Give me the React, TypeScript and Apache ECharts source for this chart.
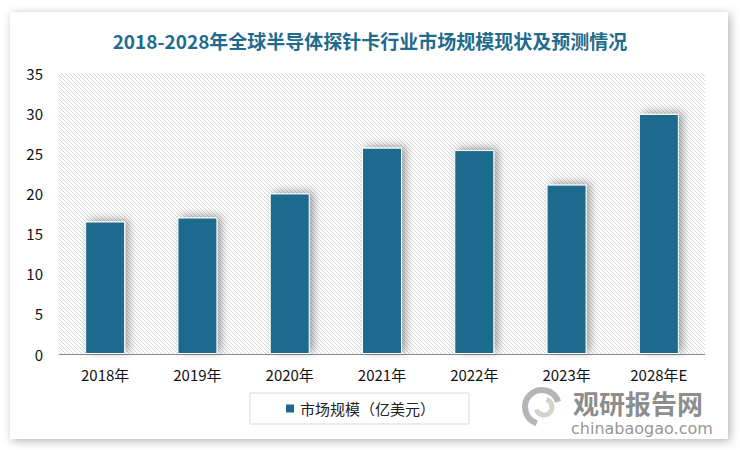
import React, { useEffect, useRef } from "react";
import * as echarts from "echarts";

const categories = ["2018年", "2019年", "2020年", "2021年", "2022年", "2023年", "2028年E"];
const marketSize = [16.5, 17.0, 20.0, 25.7, 25.4, 21.1, 29.9];
const seriesName = "市场规模（亿美元）";
const title = "2018-2028年全球半导体探针卡行业市场规模现状及预测情况";

function makeHatch(): HTMLCanvasElement {
  const c = document.createElement("canvas");
  c.width = 4;
  c.height = 4;
  const ctx = c.getContext("2d")!;
  ctx.fillStyle = "#ffffff";
  ctx.fillRect(0, 0, 4, 4);
  ctx.strokeStyle = "#d6d6d6";
  ctx.lineWidth = 1;
  ctx.beginPath();
  ctx.moveTo(-1, -1);
  ctx.lineTo(5, 5);
  ctx.moveTo(3, -1);
  ctx.lineTo(5, 1);
  ctx.moveTo(-1, 3);
  ctx.lineTo(1, 5);
  ctx.stroke();
  return c;
}

export default function App() {
  const ref = useRef<HTMLDivElement>(null);
  useEffect(() => {
    if (!ref.current) return;
    const chart = echarts.init(ref.current, undefined, { renderer: "svg" });
    const font = "'Microsoft YaHei', 'Noto Sans CJK SC', sans-serif";
    const gl = 59, gt = 73, gr = 35, gb = 96;
    chart.setOption({
      animation: false,
      backgroundColor: "#ffffff",
      textStyle: { fontFamily: font },
      title: {
        text: title,
        left: "center",
        top: 26,
        textStyle: { fontSize: 19, fontWeight: "bold", color: "#1f6b8d", fontFamily: font },
      },
      grid: { left: gl, top: gt, right: gr, bottom: gb },
      legend: {
        data: [seriesName],
        left: 250,
        top: 393,
        width: 226,
        padding: [8, 34, 8, 34],
        borderColor: "#d9d9d9",
        borderWidth: 1,
        itemWidth: 10,
        itemHeight: 10,
        icon: "rect",
        itemGap: 8,
        textStyle: { fontSize: 15, color: "#222", fontFamily: font },
      },
      graphic: [
        {
          type: "rect",
          z: -10,
          shape: { x: 10, y: 12, width: 718, height: 427 },
          style: { fill: "#ffffff", shadowBlur: 10, shadowColor: "rgba(0,0,0,0.3)", shadowOffsetX: 2, shadowOffsetY: 2 },
        },
        {
          type: "rect",
          z: -5,
          shape: { x: gl, y: gt, width: 740 - gl - gr, height: 450 - gt - gb },
          style: { fill: { image: makeHatch(), repeat: "repeat" } as any },
        },
        {
          type: "text",
          z: 100,
          left: 573,
          top: 389,
          style: { text: "观研报告网", fill: "rgba(120,120,120,0.85)", font: "bold 26px 'Noto Sans CJK SC', sans-serif" },
        },
        {
          type: "text",
          z: 100,
          left: 571,
          top: 420,
          style: { text: "chinabaogao.com", fill: "rgba(130,130,130,0.85)", font: "16px 'DejaVu Sans', sans-serif" },
        },
        {
          type: "arc",
          z: 100,
          shape: { cx: 542, cy: 407, r: 17, startAngle: Math.PI * 0.6, endAngle: Math.PI * 1.9 },
          style: { stroke: "rgba(150,150,150,0.7)", lineWidth: 6, fill: "none" },
        },
        {
          type: "arc",
          z: 100,
          shape: { cx: 544, cy: 407, r: 8, startAngle: Math.PI * 1.6, endAngle: Math.PI * 0.9 },
          style: { stroke: "rgba(200,200,190,0.8)", lineWidth: 5, fill: "none" },
        },
      ],
      xAxis: {
        type: "category",
        data: categories,
        axisLine: { lineStyle: { color: "#8c8c8c", width: 1 } },
        axisTick: { show: false },
        axisLabel: { fontSize: 15, color: "#111", margin: 13, fontFamily: font },
      },
      yAxis: {
        type: "value",
        min: 0,
        max: 35,
        interval: 5,
        splitLine: { show: false },
        axisLine: { show: false },
        axisTick: { show: false },
        axisLabel: { fontSize: 15, color: "#111", margin: 16, fontFamily: font },
      },
      series: [
        {
          name: seriesName,
          type: "bar",
          data: marketSize,
          barWidth: 40,
          itemStyle: {
            color: "#1b6a8e",
            borderColor: "#ffffff",
            borderWidth: 1,
            shadowColor: "rgba(0,0,0,0.35)",
            shadowBlur: 8,
            shadowOffsetX: 4,
            shadowOffsetY: -2,
          },
        },
      ],
    });
    return () => chart.dispose();
  }, []);
  return <div ref={ref} style={{ width: 740, height: 450, position: "absolute", left: 0, top: 0 }} />;
}
